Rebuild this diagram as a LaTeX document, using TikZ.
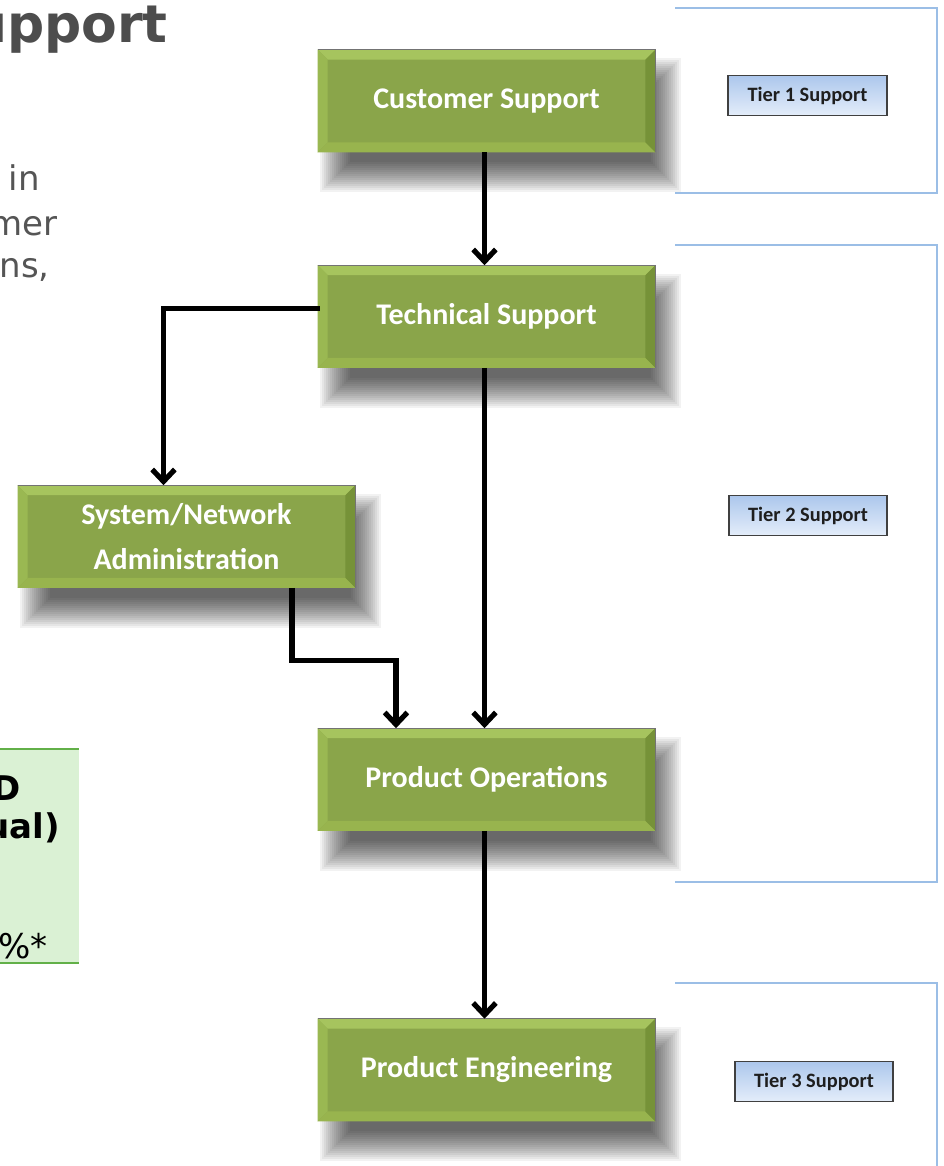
\documentclass[tikz,border=0pt]{standalone}
\usepackage{fontspec}
\setmainfont{DejaVu Sans}
\newfontfamily\calfont{Carlito}
\usetikzlibrary{calc,arrows.meta}
\definecolor{face}{RGB}{138,165,74}
\definecolor{bevtop}{RGB}{166,196,94}
\definecolor{bevleft}{RGB}{154,184,82}
\definecolor{bevbot}{RGB}{152,180,78}
\definecolor{bevright}{RGB}{118,146,56}
\definecolor{tierline}{RGB}{155,190,230}
\definecolor{tiertop}{RGB}{172,199,236}
\definecolor{tierbot}{RGB}{228,237,250}
\definecolor{tierdraw}{RGB}{64,64,64}
\definecolor{tiertext}{RGB}{30,30,30}
\definecolor{titlegray}{RGB}{77,77,77}
\definecolor{bodygray}{RGB}{85,85,85}
\definecolor{leftfill}{RGB}{218,241,212}
\definecolor{leftline}{RGB}{98,176,72}
% soft shadow + bevelled green box: #1 name, #2 x, #3 y, #4 text
\newcommand\greenbox[4]{%
 \foreach \k in {0,...,15}{%
   \fill[black, opacity=0.05]
     ({#2-168.5+18-16+2*\k},{#3-51+24-16+2*\k}) rectangle
     ({#2+168.5+10+16-2*\k},{#3+51+24+16-2*\k});
 }
 \node[gbox] (#1) at (#2,#3) {#4};
 \fill[bevtop] (#1.north west) -- (#1.north east) -- ($(#1.north east)+(-10,10)$) -- ($(#1.north west)+(10,10)$) -- cycle;
 \fill[bevleft] (#1.north west) -- ($(#1.north west)+(10,10)$) -- ($(#1.south west)+(10,-10)$) -- (#1.south west) -- cycle;
 \fill[bevbot] (#1.south west) -- ($(#1.south west)+(10,-10)$) -- ($(#1.south east)+(-10,-10)$) -- (#1.south east) -- cycle;
 \fill[bevright] (#1.north east) -- (#1.south east) -- ($(#1.south east)+(-10,-10)$) -- ($(#1.north east)+(-10,10)$) -- cycle;
 \draw[line width=0.8pt, black!55] (#1.north west) -- (#1.north east) -- (#1.south east);
}
\tikzset{
 gbox/.style={draw=none, fill=face, minimum width=252.75pt, minimum height=76.5pt, inner sep=0pt,
   text=white, font=\calfont\bfseries\fontsize{22.5}{37}\selectfont, align=center},
 tbox/.style={draw=tierdraw, line width=1.4pt, top color=tiertop, bottom color=tierbot,
   minimum width=119pt, minimum height=30pt, inner sep=0pt,
   font=\calfont\bfseries\fontsize{15.3}{17}\selectfont, text=tiertext},
 conn/.style={line width=3.9pt, -{Straight Barb[length=9pt,width=17pt]}},
 bracket/.style={draw=tierline, line width=1.8pt},
 title/.style={anchor=base east, inner sep=0pt, font=\bfseries\fontsize{39}{44}\selectfont, text=titlegray},
 body/.style={anchor=base east, inner sep=0pt, font=\fontsize{25.5}{30}\selectfont, text=bodygray},
 lefttext/.style={anchor=base east, inner sep=0pt, font=\fontsize{25.5}{30}\selectfont, text=black},
}
\begin{document}
\begin{tikzpicture}[x=0.75pt,y=-0.75pt]
\useasboundingbox (0,0) rectangle (943,1166);
\fill[white] (0,0) rectangle (943,1166);
\clip (0,0) rectangle (943,1166);

% left page text fragments
\node[title] (title) at (168,43) {upport};
\node[body] (l1) at (40,191) {in};
\node[body] (l2) at (58,236) {mer};
\node[body] (l3) at (50,277) {ns,};

% left green table fragment
\fill[leftfill] (-2,749) rectangle (79,963);
\draw[leftline, line width=1.5pt] (-2,749) -- (79,749);
\draw[leftline, line width=1.5pt] (-2,963) -- (79,963);
\node[lefttext, font=\bfseries\fontsize{25.5}{30}\selectfont] (t1) at (21,800) {D};
\node[lefttext, font=\bfseries\fontsize{25.5}{30}\selectfont] (t2) at (60,838) {ual)};
\node[lefttext] (t3) at (48,958) {0\%*};

% tier brackets
\draw[bracket] (675,8) -- (937,8) -- (937,193) -- (675,193);
\draw[bracket] (675,245) -- (937,245) -- (937,882) -- (675,882);
\draw[bracket] (675,983) -- (937,983) -- (937,1172);

% tier labels
\node[tbox] (tier1) at (807.5,95.5) {Tier 1 Support};
\node[tbox] (tier2) at (808,515.5) {Tier 2 Support};
\node[tbox] (tier3) at (814,1081.5) {Tier 3 Support};

% green boxes
\greenbox{cs}{486.5}{101}{\raisebox{4pt}{Customer Support}}
\greenbox{ts}{486.5}{316.5}{\raisebox{4pt}{Technical Support}}
\greenbox{sna}{186.5}{536.5}{\raisebox{-3pt}{\shortstack{System/Network\\[12pt]Administration}}}
\greenbox{po}{486.5}{779.5}{\raisebox{4pt}{Product Operations}}
\greenbox{pe}{486.5}{1070}{\raisebox{4pt}{Product Engineering}}

% connectors
\draw[conn] ($(cs.south)+(-2,0)$) -- ($(ts.north)+(-2,0)$);
\draw[conn] ($(ts.west)+(2,-8)$) -| ($(sna.north)+(-23,0)$);
\draw[conn] ($(ts.south)+(-2,0)$) -- ($(po.north)+(-2,0)$);
\draw[conn] ($(sna.south)+(105.5,0)$) |- ($(po.north)+(-90.5,-68)$) -- ($(po.north)+(-90.5,0)$);
\draw[conn] ($(po.south)+(-2,0)$) -- ($(pe.north)+(-2,0)$);
\end{tikzpicture}
\end{document}
